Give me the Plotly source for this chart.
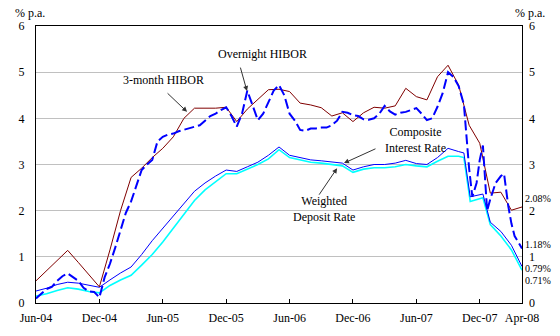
import plotly.graph_objects as go

# Month index: 0 = Jun-04 ... 46 = Apr-08
TICK_VALS = [0, 6, 12, 18, 24, 30, 36, 42, 46]
TICK_TEXT = ["Jun-04", "Dec-04", "Jun-05", "Dec-05", "Jun-06", "Dec-06", "Jun-07", "Dec-07", "Apr-08"]

HIBOR3_M = list(range(0, 47))
HIBOR3_V = [0.48, 0.70, 0.90, 1.14, 0.88, 0.62, 0.35, 1.15, 2.00, 2.72,
            2.92, 3.15, 3.35, 3.60, 4.00, 4.22, 4.22, 4.22, 4.24, 3.93,
            4.20, 4.40, 4.62, 4.63, 4.58, 4.33, 4.29, 4.23, 4.05, 4.12,
            3.93, 4.12, 4.24, 4.22, 4.27, 4.65, 4.47, 4.40, 4.90, 5.15,
            4.72, 3.85, 3.46, 2.38, 2.40, 2.01, 2.08]

ON_M = [0, 0.5, 1, 1.5, 2, 2.5, 3, 3.5, 4, 4.5, 5, 5.5, 6, 6.5, 7, 7.5, 8, 8.5, 9, 9.5,
        10, 10.5, 11, 11.5, 12, 12.5, 13, 13.5, 14, 14.5, 15, 15.5, 16, 16.5, 17, 17.5,
        18, 18.5, 19, 19.5, 20, 20.5, 21, 21.5, 22, 22.5, 23, 23.5, 24, 24.5, 25, 25.5,
        26, 26.5, 27, 27.5, 28, 28.5, 29, 29.5, 30, 30.5, 31, 31.5, 32, 32.5, 33, 33.5,
        34, 34.5, 35, 35.5, 36, 36.5, 37, 37.5, 38, 38.5, 39, 39.5, 40, 40.5, 41, 41.3,
        41.7, 42, 42.3, 42.7, 43, 43.5, 44, 44.3, 44.7, 45, 45.3, 45.7, 46]
ON_V = [0.10, 0.20, 0.30, 0.35, 0.48, 0.58, 0.64, 0.56, 0.48, 0.33, 0.25, 0.24, 0.12, 0.56,
        0.85, 1.20, 1.60, 1.95, 2.20, 2.55, 2.88, 3.00, 3.10, 3.50, 3.60, 3.65, 3.67, 3.72,
        3.75, 3.78, 3.82, 3.85, 3.95, 4.05, 4.10, 4.18, 4.24, 4.05, 3.82, 4.10, 4.60, 4.30,
        3.96, 4.10, 4.35, 4.60, 4.72, 4.50, 4.10, 3.95, 3.75, 3.73, 3.78, 3.78, 3.80, 3.80,
        3.85, 3.95, 4.14, 4.12, 4.07, 4.05, 3.98, 3.97, 4.00, 4.10, 4.27, 4.15, 4.08, 4.12,
        4.14, 4.18, 4.22, 4.10, 3.96, 4.00, 4.25, 4.55, 5.00, 4.90, 4.70, 4.30, 2.90, 2.30,
        2.60, 3.10, 3.41, 2.00, 2.25, 2.60, 2.75, 2.80, 2.10, 1.72, 1.45, 1.30, 1.18]

COMP_M = list(range(0, 41)) + [40.5, 41.1, 42.3, 43, 44, 45, 46]
COMP_V = [0.26, 0.32, 0.40, 0.45, 0.43, 0.38, 0.34, 0.50, 0.65, 0.78,
          1.05, 1.35, 1.62, 1.90, 2.15, 2.42, 2.60, 2.75, 2.88, 2.85,
          2.95, 3.05, 3.20, 3.38, 3.20, 3.15, 3.10, 3.08, 3.05, 3.03,
          2.88, 2.95, 3.00, 3.00, 3.03, 3.09, 3.02, 3.00, 3.15, 3.35,
          3.28, 3.25, 2.30, 2.36, 1.75, 1.55, 1.25, 0.79]

DEP_M = list(range(0, 41)) + [40.5, 41.1, 42.3, 43, 44, 45, 46]
DEP_V = [0.15, 0.20, 0.27, 0.33, 0.30, 0.25, 0.22, 0.38, 0.50, 0.60,
          0.82, 1.05, 1.32, 1.62, 1.92, 2.22, 2.45, 2.63, 2.80, 2.80,
          2.90, 3.00, 3.12, 3.32, 3.15, 3.10, 3.05, 3.03, 3.00, 2.97,
          2.83, 2.90, 2.93, 2.93, 2.95, 3.00, 2.97, 2.95, 3.07, 3.18,
          3.18, 3.15, 2.20, 2.28, 1.70, 1.45, 1.15, 0.71]

FONT = "Liberation Serif, Times New Roman, serif"

fig = go.Figure()
fig.add_trace(go.Scatter(x=DEP_M, y=DEP_V, mode="lines", line=dict(color="#00FFFF", width=1.6), name="Weighted Deposit Rate"))
fig.add_trace(go.Scatter(x=COMP_M, y=COMP_V, mode="lines", line=dict(color="#0000FF", width=1), name="Composite Interest Rate"))
fig.add_trace(go.Scatter(x=HIBOR3_M, y=HIBOR3_V, mode="lines", line=dict(color="#800000", width=1), name="3-month HIBOR"))
fig.add_trace(go.Scatter(x=ON_M, y=ON_V, mode="lines", line=dict(color="#0000FF", width=2, dash="10px,4px"), name="Overnight HIBOR"))
fig.add_trace(go.Scatter(x=[0], y=[0], yaxis="y2", mode="markers", marker=dict(opacity=0), showlegend=False, hoverinfo="skip"))

annos = []
# text labels
annos.append(dict(x=262, y=54, xref="paper", yref="paper", text="Overnight HIBOR", showarrow=False))
annos.append(dict(x=163, y=80, xref="paper", yref="paper", text="3-month HIBOR", showarrow=False))
annos.append(dict(x=415, y=140, xref="paper", yref="paper", text="Composite<br>Interest Rate", showarrow=False))
annos.append(dict(x=324, y=209, xref="paper", yref="paper", text="Weighted<br>Deposit Rate", showarrow=False))
# convert pixel positions to paper coords
L, R, T, B = 36, 522, 26, 302.7
for a in annos:
    a["x"] = (a["x"] - L) / (R - L)
    a["y"] = (B - a["y"]) / (B - T)
    a["font"] = dict(family=FONT, size=12, color="black")
    a["xanchor"] = "center"
    a["yanchor"] = "middle"

# arrows (head in data coords, tail offset in px)
for hx, hy, ax, ay in [(19.97, 4.59, -7, -25), (14.3, 4.14, -21, -20), (29.15, 3.03, 33, -15), (28.5, 2.92, -19, 28)]:
    annos.append(dict(x=hx, y=hy, xref="x", yref="y", text="", showarrow=True, ax=ax, ay=ay,
                      arrowhead=2, arrowsize=1, arrowwidth=1, arrowcolor="#333333"))

# end value labels
for txt, py in [("2.08%", 198), ("1.18%", 244), ("0.79%", 268), ("0.71%", 280)]:
    annos.append(dict(x=(538 - L) / (R - L), y=(B - py) / (B - T), xref="paper", yref="paper", text=txt,
                      showarrow=False, font=dict(family=FONT, size=10, color="black"), xanchor="center", yanchor="middle"))

# unit labels
annos.append(dict(x=(30 - L) / (R - L), y=(B - 13) / (B - T), xref="paper", yref="paper", text="% p.a.",
                  showarrow=False, font=dict(family=FONT, size=12, color="black"), xanchor="center", yanchor="middle"))
annos.append(dict(x=(530 - L) / (R - L), y=(B - 13) / (B - T), xref="paper", yref="paper", text="% p.a.",
                  showarrow=False, font=dict(family=FONT, size=12, color="black"), xanchor="center", yanchor="middle"))

fig.update_layout(
    width=560, height=336,
    margin=dict(l=36, r=38, t=26, b=33.3),
    paper_bgcolor="white", plot_bgcolor="white",
    showlegend=False,
    font=dict(family=FONT, size=12, color="black"),
    xaxis=dict(range=[0, 46], tickvals=TICK_VALS, ticktext=TICK_TEXT, ticks="inside", ticklen=4,
               tickcolor="black", showgrid=False, showline=True, linecolor="black", linewidth=1,
               mirror=True, zeroline=False, tickfont=dict(family=FONT, size=12), ticklabelstandoff=4),
    yaxis=dict(range=[0, 6], dtick=1, showgrid=True, gridcolor="#C0C0C0", gridwidth=1,
               showline=True, linecolor="black", linewidth=1, mirror=True, zeroline=False,
               ticks="", tickfont=dict(family=FONT, size=12), ticklabelstandoff=8),
    yaxis2=dict(range=[0, 6], dtick=1, overlaying="y", side="right", showgrid=False, zeroline=False,
                showline=False, ticks="", tickfont=dict(family=FONT, size=12), ticklabelstandoff=6),
    annotations=annos,
)

fig.write_html("out.html")
